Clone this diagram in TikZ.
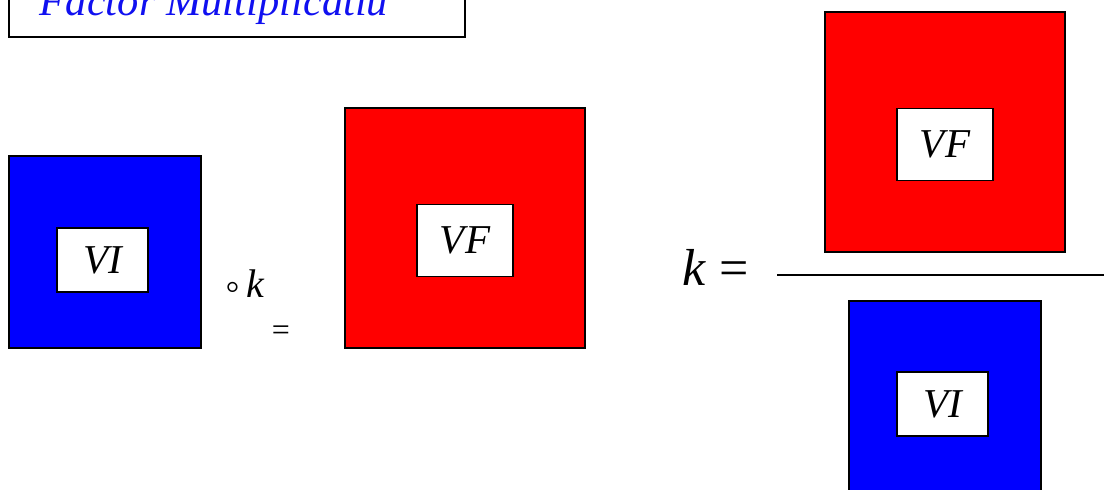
\documentclass[tikz,border=0pt]{standalone}
\usepackage{fontspec}
\setmainfont{Liberation Serif}
\usetikzlibrary{positioning}
\definecolor{ink}{HTML}{000000}
\definecolor{vifill}{HTML}{0000FF}
\definecolor{vffill}{HTML}{FF0000}
\definecolor{titleblue}{HTML}{1010F0}
\tikzset{
  square/.style={
    draw=ink,
    line width=1.2pt,
    inner sep=0pt
  },
  vi square/.style={square, fill=vifill, minimum width=192pt, minimum height=192pt},
  vf square/.style={square, fill=vffill, minimum width=240pt, minimum height=240pt},
  valuebox/.style={
    draw=ink,
    line width=1.2pt,
    fill=white,
    inner sep=0pt,
    text=ink,
    font=\fontsize{41}{46}\selectfont\itshape
  },
  vi box/.style={valuebox, minimum width=91pt, minimum height=64pt},
  vf box/.style={valuebox, minimum width=96pt, minimum height=72pt},
  formula/.style={inner sep=0pt, text=ink, anchor=base}
}
\begin{document}
\begin{tikzpicture}[x=1pt,y=-1pt]
  \useasboundingbox (0,0) rectangle (1104,490);
  \clip (0,0) rectangle (1104,490);

  % Title
  \draw[ink, line width=1.2pt] (9,-30) rectangle (465,37);
  \node[formula, text=titleblue, font=\fontsize{42.5}{48}\selectfont\itshape] (title)
    at (214,15) {Factor Multiplicatiu};

  % Left side: VI times k equals VF
  \node[vi square] (visq) at (105,252) {};
  \node[vi box] (vi) at (102.5,260) {VI};
  \node[formula, font=\fontsize{40}{44}\selectfont] (times) at (245,297)
    {{\fontsize{42}{46}\selectfont\raisebox{-3pt}{◦}}\,\textit{k}};
  \node[formula, font=\fontsize{32}{36}\selectfont] (eq) at (281,340) {=};
  \node[vf square] (vfsq) at (465,228) {};
  \node[vf box] (vf) at (465,240.5) {VF};

  % Right side: k as a quotient
  \node[formula, font=\fontsize{52}{58}\selectfont] (kdef) at (716,285) {\textit{k} =};
  \node[vf square] (numsq) at (945,132) {};
  \node[vf box] (num) at (945,144.5) {VF};
  \node[vi square, minimum height=190pt] (densq) at (945,396) {};
  \node[vi box] (den) at (942.5,404) {VI};
  \coordinate (barleft) at (777,275);
  \coordinate (barright) at (1110,275);
  \draw[ink, line width=1.2pt] (barleft) -- (barright);
\end{tikzpicture}
\end{document}
